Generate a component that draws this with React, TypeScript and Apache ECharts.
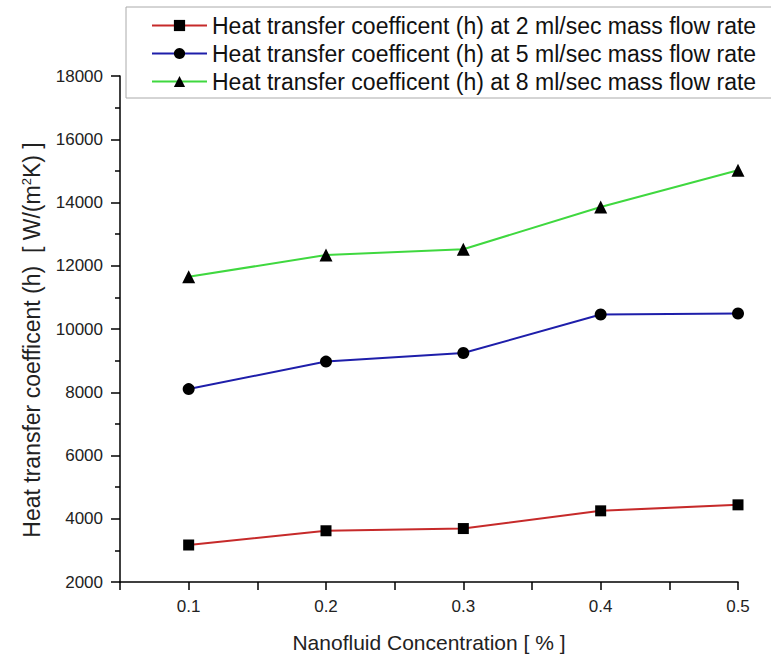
import React, { useEffect, useRef } from "react";
import * as echarts from "echarts";

const concentrations = [0.1, 0.2, 0.3, 0.4, 0.5];
const h2 = [3170, 3620, 3690, 4250, 4440];
const h5 = [8100, 8970, 9240, 10460, 10490];
const h8 = [11650, 12340, 12520, 13860, 15020];
const seriesNames = [
  "Heat transfer coefficent (h) at 2 ml/sec mass flow rate",
  "Heat transfer coefficent (h) at 5 ml/sec mass flow rate",
  "Heat transfer coefficent (h) at 8 ml/sec mass flow rate",
];
const lineColors = ["#c62a2a", "#1e1eaa", "#3fd83f"];
const symbols = ["rect", "circle", "triangle"];
const symbolSizes = [11, 12, 13];

const FONT = "Liberation Sans, Arial, sans-serif";

export default function App() {
  const ref = useRef<HTMLDivElement>(null);
  useEffect(() => {
    if (!ref.current) return;
    const chart = echarts.init(ref.current, undefined, { renderer: "svg" });
    const datasets = [h2, h5, h8];
    chart.setOption({
      animation: false,
      backgroundColor: "#fff",
      textStyle: { fontFamily: FONT },
      grid: { left: 120, right: 33, top: 76, bottom: 77, containLabel: false },
      legend: {
        orient: "vertical",
        left: 126,
        top: 7,
        padding: [7, 40, 5, 25],
        itemGap: 5,
        itemWidth: 55,
        itemHeight: 14,
        borderColor: "#aaa",
        borderWidth: 1,
        borderRadius: 0,
        textStyle: { fontSize: 23, color: "#111", fontFamily: FONT },
        data: seriesNames,
      },
      xAxis: {
        type: "value",
        min: 0.05,
        max: 0.5,
        interval: 0.05,
        name: "Nanofluid Concentration [ % ]",
        nameLocation: "middle",
        nameGap: 50,
        nameTextStyle: { fontSize: 21, color: "#222", fontFamily: FONT },
        axisLine: { show: true, lineStyle: { color: "#000", width: 1.5 } },
        axisTick: { show: true, length: 8, lineStyle: { color: "#000", width: 1.5 } },
        axisLabel: {
          fontSize: 17,
          color: "#222",
          margin: 16,
          formatter: (v: number) => {
            const t = v * 10;
            return Math.abs(t - Math.round(t)) < 1e-6 ? v.toFixed(1) : "";
          },
        },
        splitLine: { show: false },
      },
      yAxis: {
        type: "value",
        min: 2000,
        max: 18000,
        interval: 2000,
        name: "Heat transfer coefficent (h)  [ W/(m{sup|2}K) ]",
        nameLocation: "middle",
        nameGap: 77,
        nameRotate: 90,
        nameTextStyle: {
          fontSize: 23,
          color: "#222",
          fontFamily: FONT,
          padding: [0, 22, 0, 0],
          rich: {
            sup: { fontSize: 13, verticalAlign: "top", padding: [0, 0, 10, 0], color: "#222", fontFamily: FONT },
          },
        },
        axisLine: { show: true, lineStyle: { color: "#000", width: 1.5 } },
        axisTick: { show: true, length: 9, lineStyle: { color: "#000", width: 1.5 } },
        minorTick: { show: true, splitNumber: 2, length: 5, lineStyle: { color: "#000", width: 1.5 } },
        axisLabel: { fontSize: 17, color: "#222", margin: 17, formatter: (v: number) => String(v) },
        splitLine: { show: false },
      },
      series: datasets.map((d, i) => ({
        name: seriesNames[i],
        type: "line",
        data: concentrations.map((c, j) => [c, d[j]]),
        symbol: symbols[i],
        symbolSize: symbolSizes[i],
        showSymbol: true,
        lineStyle: { color: lineColors[i], width: 2 },
        itemStyle: { color: "#000" },
        z: 3 + i,
      })),
    });
    return () => chart.dispose();
  }, []);
  return <div ref={ref} style={{ width: 771, height: 659, position: "absolute", left: 0, top: 0 }} />;
}
